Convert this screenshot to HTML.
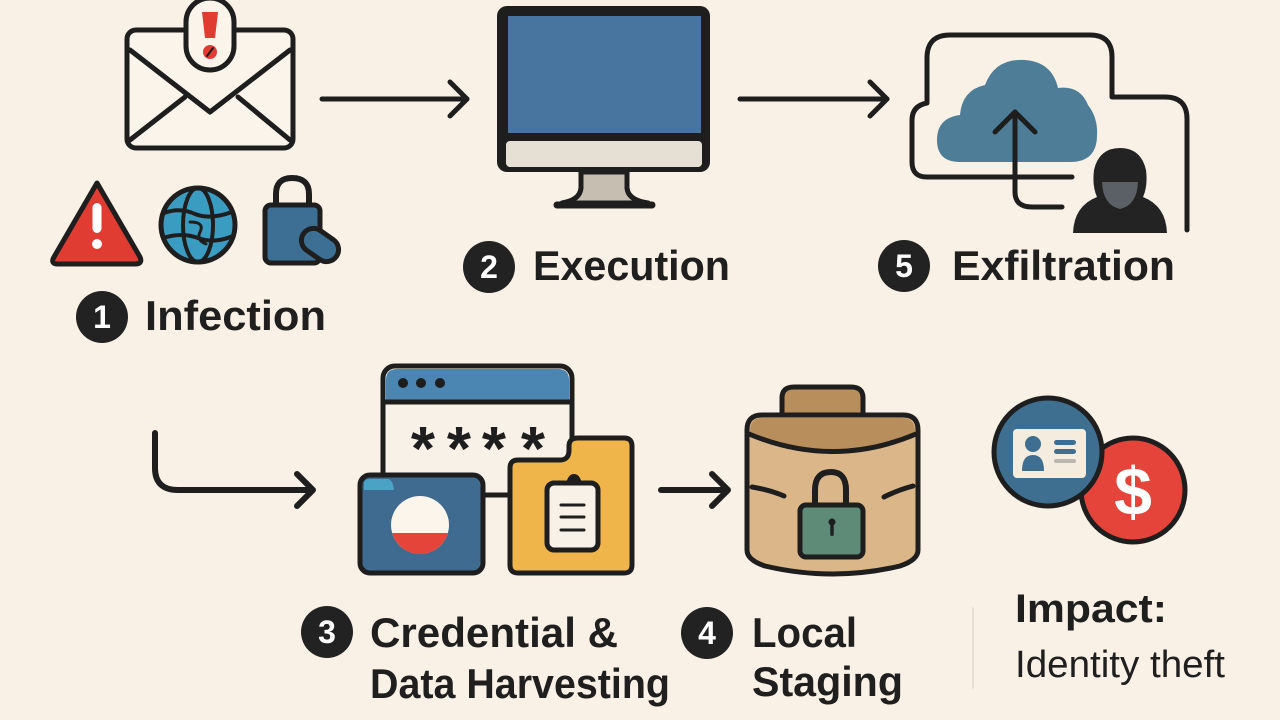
<!DOCTYPE html>
<html><head><meta charset="utf-8"><style>
html,body{margin:0;padding:0;background:#f9f1e6;}
svg{display:block;}
text{font-family:"Liberation Sans","DejaVu Sans",sans-serif;}
</style></head><body>
<svg width="1280" height="720" viewBox="0 0 1280 720" xmlns="http://www.w3.org/2000/svg">
<rect width="1280" height="720" fill="#f9f1e6"/>
<g stroke="#1e1e1e" stroke-linecap="round" stroke-linejoin="round">
<!-- Envelope -->
<rect x="127" y="30" width="166" height="118" rx="9" fill="#faf4eb" stroke-width="5"/>
<polyline points="130,50 210,112 290,50" fill="none" stroke-width="5"/>
<line x1="130" y1="140" x2="185" y2="97" stroke-width="5"/>
<line x1="238" y1="97" x2="290" y2="140" stroke-width="5"/>
<rect x="186" y="-2" width="48" height="72" rx="24" fill="#faf4eb" stroke-width="5"/>
<path d="M202 12 L218 12 L215 38 L205 38 Z" fill="#e03c32" stroke="none"/>
<circle cx="210" cy="52" r="7" fill="#e03c32" stroke="none"/>
<line x1="207" y1="56" x2="213" y2="48" stroke-width="2"/>
<!-- arrow 1 -->
<line x1="322" y1="99" x2="467" y2="99" stroke-width="5"/>
<polyline points="450,82 467,99 450,116" fill="none" stroke-width="5"/>
<!-- warning triangle -->
<path d="M97 183 L140 257 Q143 264 135 264 L58 264 Q50 264 54 257 Z" fill="#e03c32" stroke-width="5"/>
<rect x="92.5" y="203" width="9" height="30" rx="4.5" fill="#fff" stroke="none"/>
<circle cx="97" cy="244" r="5" fill="#fff" stroke="none"/>
<!-- globe -->
<circle cx="198" cy="225" r="37" fill="#3b9cc2" stroke-width="5"/>
<ellipse cx="198" cy="225" rx="15" ry="37" fill="none" stroke-width="4"/>
<path d="M164 213 Q180 207 195 214 Q210 220 232 212" fill="none" stroke-width="4"/>
<path d="M163 238 Q182 232 198 238 Q214 244 233 236" fill="none" stroke-width="4"/>
<path d="M190 222 Q205 222 200 232 Q196 240 206 244" fill="none" stroke-width="3"/>
<!-- lock -->
<path d="M276 207 V194 Q276 178 292 178 Q309 178 309 194 V207" fill="none" stroke-width="6"/>
<rect x="265" y="205" width="55" height="58" rx="6" fill="#3d6f95" stroke-width="5"/>
<rect x="300" y="233" width="40" height="24" rx="12" fill="#3d6f95" stroke-width="5" transform="rotate(35 320 245)"/>
<!-- Monitor -->
<rect x="497" y="6" width="213" height="166" rx="10" fill="#1e1e1e" stroke="none"/>
<rect x="508" y="16" width="193" height="117" fill="#4874a0" stroke="none"/>
<rect x="506" y="141" width="196" height="26" rx="4" fill="#e6dfd3" stroke="none"/>
<path d="M581 172 L581 188 Q580 200 562 203 L648 203 Q628 200 627 188 L627 172 Z" fill="#c7beb2" stroke-width="5"/>
<line x1="557" y1="205" x2="652" y2="205" stroke-width="7"/>
<!-- arrow 2 -->
<line x1="740" y1="99" x2="887" y2="99" stroke-width="5"/>
<polyline points="870,82 887,99 870,116" fill="none" stroke-width="5"/>
<!-- cloud frame -->
<path d="M960 162 Q937 162 937 140 Q937 118 960 115 Q962 90 985 85 Q995 58 1025 60 Q1052 62 1058 88 Q1080 85 1088 105 Q1098 118 1097 135 Q1097 162 1070 162 Z" fill="#4e7d98" stroke="none"/>
<path d="M1072 177 H927 Q912 177 912 162 V120 Q912 106 927 103 V58 Q927 35 950 35 H1090 Q1112 35 1112 57 V97 H1165 Q1187 97 1187 119 V230" fill="none" stroke-width="5"/>
<path d="M1015 112 V192 Q1015 207 1032 207 H1062" fill="none" stroke-width="5"/>
<polyline points="995,132 1015,112 1035,132" fill="none" stroke-width="5"/>
<!-- hacker -->
<path d="M1073 233 Q1074 206 1097 197 Q1092 186 1094 170 Q1099 148 1120 148 Q1141 148 1146 170 Q1148 186 1143 197 Q1166 206 1167 233 Z" fill="#232323" stroke="none"/>
<path d="M1102 182 H1138 Q1137 205 1120 209 Q1103 205 1102 182 Z" fill="#5b6066" stroke="none"/>
<!-- curved arrow -->
<path d="M155 433 V468 Q155 490 178 490 H312" fill="none" stroke-width="6"/>
<polyline points="297,474 313,490 297,506" fill="none" stroke-width="6"/>
<!-- browser window -->
<rect x="383" y="366" width="189" height="129" rx="12" fill="#f7f1e8" stroke-width="5"/>
<path d="M386 402 V380 Q386 369 397 369 H558 Q569 369 569 380 V402 Z" fill="#4b86b3" stroke="none"/>
<line x1="385" y1="402" x2="570" y2="402" stroke-width="5"/>
<circle cx="403" cy="383" r="5" fill="#1e1e1e" stroke="none"/>
<circle cx="421" cy="383" r="5" fill="#1e1e1e" stroke="none"/>
<circle cx="440" cy="383" r="5" fill="#1e1e1e" stroke="none"/>
<!-- blue folder -->
<line x1="483" y1="495" x2="512" y2="495" stroke-width="5"/>
<rect x="360" y="475" width="123" height="98" rx="10" fill="#3e6b8f" stroke-width="5"/>
<path d="M364 490 V484 Q364 479 370 479 H388 Q393 480 394 490 Z" fill="#4aa3c4" stroke="none"/>
<circle cx="420" cy="525" r="29" fill="#fbf5ec" stroke="none"/>
<path d="M392.1 533 A29 29 0 0 0 447.9 533 Z" fill="#e5443a" stroke="none"/>
<!-- yellow folder -->
<path d="M518 460 H560 Q569 460 569 450 V446 Q569 438 578 438 H624 Q632 438 632 446 V565 Q632 573 624 573 H518 Q510 573 510 565 V468 Q510 460 518 460 Z" fill="#f0b54a" stroke-width="5"/>
<rect x="547" y="483" width="51" height="67" rx="7" fill="#f7f1e8" stroke-width="5"/>
<path d="M566 484 Q568 474 574 474 Q580 474 582 484 Z" fill="#1e1e1e" stroke="none"/>
<line x1="561" y1="505" x2="584" y2="505" stroke-width="3"/>
<line x1="561" y1="517" x2="584" y2="517" stroke-width="3"/>
<line x1="561" y1="530" x2="584" y2="530" stroke-width="3"/>
<!-- arrow 3 -->
<line x1="661" y1="490" x2="727" y2="490" stroke-width="6"/>
<polyline points="712,474 728,490 712,506" fill="none" stroke-width="6"/>
<!-- barrel -->
<path d="M782 415 V398 Q782 387 794 387 H851 Q863 387 863 398 V415" fill="#b88f5c" stroke-width="5"/>
<path d="M747 430 Q747 415 762 415 H903 Q918 415 918 430 V550 Q918 560 900 566 Q833 582 765 566 Q747 560 747 550 Z" fill="#dab688" stroke-width="5"/>
<path d="M750 432 Q750 418 762 418 H903 Q915 418 915 432 Q833 469 750 432 Z" fill="#b88f5c" stroke="none"/>
<path d="M749 434 Q833 469 916 434" fill="none" stroke-width="5"/>
<path d="M752 487 Q770 490 784 496" fill="none" stroke-width="5"/>
<path d="M884 497 Q898 490 913 486" fill="none" stroke-width="5"/>
<path d="M815 507 V490 Q815 472 831 472 Q846 472 846 490 V507" fill="none" stroke-width="6"/>
<rect x="800" y="505" width="63" height="52" rx="6" fill="#5d8b78" stroke-width="5"/>
<circle cx="832" cy="522" r="3.5" fill="#1e1e1e" stroke="none"/>
<rect x="830.3" y="522" width="3.4" height="14" rx="1.5" fill="#1e1e1e" stroke="none"/>
<!-- impact -->
<circle cx="1133" cy="490" r="52" fill="#e5443a" stroke-width="5"/>
<circle cx="1048" cy="452" r="54" fill="#3f6f90" stroke-width="5"/>
<rect x="1013" y="429" width="73" height="49" rx="4" fill="#f4ecdf" stroke="none"/>
<circle cx="1033" cy="444" r="8" fill="#3f6f90" stroke="none"/>
<path d="M1022 471 Q1022 455 1033 455 Q1044 455 1044 471 Z" fill="#3f6f90" stroke="none"/>
<rect x="1054" y="440" width="22" height="5" rx="2.5" fill="#3f6f90" stroke="none"/>
<rect x="1054" y="449" width="22" height="5" rx="2.5" fill="#3f6f90" stroke="none"/>
<rect x="1054" y="459" width="22" height="4" rx="2" fill="#b9b6b0" stroke="none"/>
<line x1="973" y1="608" x2="973" y2="688" stroke="#e2d9cc" stroke-width="1.5"/>
<!-- number circles -->
<circle cx="102" cy="317" r="26" fill="#222" stroke="none"/>
<circle cx="489" cy="267" r="26" fill="#222" stroke="none"/>
<circle cx="904" cy="266" r="26" fill="#222" stroke="none"/>
<circle cx="327" cy="632" r="26" fill="#222" stroke="none"/>
<circle cx="707" cy="633" r="26" fill="#222" stroke="none"/>
</g>
<!-- asterisks -->
<g font-family="'DejaVu Sans',sans-serif" font-weight="bold" font-size="62" fill="#1e1e1e" text-anchor="middle">
<text x="423" y="470">*</text><text x="459" y="470">*</text><text x="494" y="470">*</text><text x="533" y="470">*</text>
</g>
<text x="1133" y="515" font-size="68" font-weight="bold" fill="#fff" text-anchor="middle">$</text>
<!-- digits -->
<g font-size="32" font-weight="bold" fill="#fff" text-anchor="middle">
<text x="102" y="328">1</text>
<text x="489" y="278">2</text>
<text x="904" y="277">5</text>
<text x="327" y="643">3</text>
<text x="707" y="644">4</text>
</g>
<!-- labels -->
<g font-size="42" font-weight="bold" fill="#1f1f1f">
<text x="145" y="330" textLength="181" lengthAdjust="spacingAndGlyphs">Infection</text>
<text x="533" y="280" textLength="197" lengthAdjust="spacingAndGlyphs">Execution</text>
<text x="952" y="280" textLength="223" lengthAdjust="spacingAndGlyphs">Exfiltration</text>
<text x="370" y="647" textLength="248" lengthAdjust="spacingAndGlyphs">Credential &amp;</text>
<text x="370" y="698" textLength="300" lengthAdjust="spacingAndGlyphs">Data Harvesting</text>
<text x="752" y="647" textLength="105" lengthAdjust="spacingAndGlyphs">Local</text>
<text x="752" y="696" textLength="151" lengthAdjust="spacingAndGlyphs">Staging</text>
</g>
<text x="1015" y="622" font-size="40" font-weight="bold" fill="#1f1f1f" textLength="152" lengthAdjust="spacingAndGlyphs">Impact:</text>
<text x="1015" y="677" font-size="38" fill="#1f1f1f" textLength="210" lengthAdjust="spacingAndGlyphs">Identity theft</text>
</svg>
</body></html>
